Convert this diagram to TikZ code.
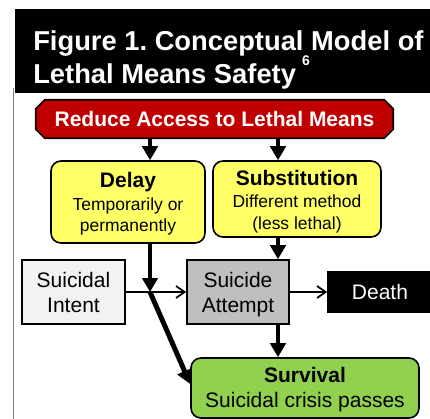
\documentclass[tikz,border=0pt]{standalone}
\usepackage{fontspec}
\setmainfont{Liberation Sans}
\frenchspacing
\usetikzlibrary{arrows.meta,calc}
\pgfdeclarelayer{background}
\pgfsetlayers{background,main}
\definecolor{hexred}{HTML}{C00000}
\definecolor{delayyellow}{HTML}{FFFF66}
\definecolor{survgreen}{HTML}{92D050}
\definecolor{intentgray}{HTML}{F2F2F2}
\definecolor{attemptgray}{HTML}{BFBFBF}
\definecolor{framegray}{HTML}{7F7F7F}
\begin{document}
\begin{tikzpicture}[x=0.75pt,y=-0.75pt,
  box/.style={draw=black,line width=1.2pt,inner sep=0pt,align=center,text depth=3.75pt},
  roundbox/.style={box,rounded corners=7.5pt},
  bigtext/.style={font=\fontsize{15.75}{19}\selectfont},
  smalltext/.style={font=\fontsize{13.1}{15.9}\selectfont},
  thickarrow/.style={line width=3.7pt,-{Triangle[width=11.5pt,length=10.5pt]}},
  thinarrow/.style={line width=1.3pt,-{Straight Barb[width=9pt,length=6.5pt,line width=1.3pt]}},
  titletext/.style={anchor=base west,text=white,inner sep=0pt,font=\bfseries\fontsize{20.5}{24}\selectfont},
]
\useasboundingbox (0,0) rectangle (430,419);
\draw[framegray,line width=1.2pt] (13.5,88) -- (13.5,425);
\fill[black] (15,9) rectangle (435,92.7);
\node[titletext] (title1) at (33,50) {Figure 1. Conceptual Model of};
\node[titletext] (title2) at (33,83) {Lethal Means Safety\hspace{4.5pt}\raisebox{13.5pt}{\fontsize{10.5}{12}\selectfont 6}};

\node[minimum width=267.75pt,minimum height=28.5pt,inner sep=0pt,text=white,
      font=\bfseries\fontsize{15.75}{19}\selectfont] (hex) at (214.5,119) {Reduce Access to Lethal Means};
\begin{pgfonlayer}{background}
\draw[fill=hexred,line width=1.2pt,line join=miter]
  ($(hex.north west)+(9,0)$) -- ($(hex.north east)+(-9,0)$) -- ($(hex.north east)+(0,9)$)
  -- ($(hex.south east)+(0,-9)$) -- ($(hex.south east)+(-9,0)$) -- ($(hex.south west)+(9,0)$)
  -- ($(hex.south west)+(0,-9)$) -- ($(hex.north west)+(0,9)$) -- cycle;
\end{pgfonlayer}

\node[roundbox,fill=delayyellow,minimum width=115.5pt,minimum height=61.5pt,smalltext,text height=48.3pt] (delay) at (128,202)
  {{\bfseries\fontsize{15.75}{19}\selectfont Delay}\\[1.6pt]Temporarily or\\permanently};
\node[roundbox,fill=delayyellow,minimum width=126pt,minimum height=57pt,smalltext,text height=48.75pt] (subst) at (297,199)
  {{\bfseries\fontsize{15.75}{19}\selectfont Substitution}\\[0.6pt]Different method\\(less lethal)};

\node[box,fill=intentgray,minimum width=77.25pt,minimum height=48pt,bigtext,text height=34.5pt] (intent) at (73.5,292) {Suicidal\\Intent};
\node[box,fill=attemptgray,minimum width=76.5pt,minimum height=48pt,bigtext,text height=34.5pt] (attempt) at (238,292) {Suicide\\Attempt};
\node[draw=black,line width=1.2pt,inner sep=0pt,fill=black,text=white,minimum width=78pt,minimum height=30pt,bigtext] (death) at (380,292) {Death};
\node[roundbox,fill=survgreen,minimum width=171pt,minimum height=45pt,bigtext,text height=33.3pt] (survival) at (305,388)
  {\textbf{Survival}\\Suicidal crisis passes};

\coordinate (j) at (150,292);
\coordinate (k) at (278,0);

\draw[thickarrow] (hex.south -| j) -- (delay.north -| j);
\draw[thickarrow] (hex.south -| k) -- (subst.north -| k);
\draw[thickarrow] (subst.south -| k) -- (attempt.north -| k);
\draw[thickarrow] (attempt.south -| k) -- (survival.north -| k);
\draw[thinarrow] (intent.east) -- (attempt.west);
\draw[thinarrow] (attempt.east) -- (death.west);
\draw[thickarrow] (delay.south -| j) -- (j);
\draw[thickarrow] (j) -- ($(survival.west)+(0,-4)$);
\end{tikzpicture}
\end{document}
